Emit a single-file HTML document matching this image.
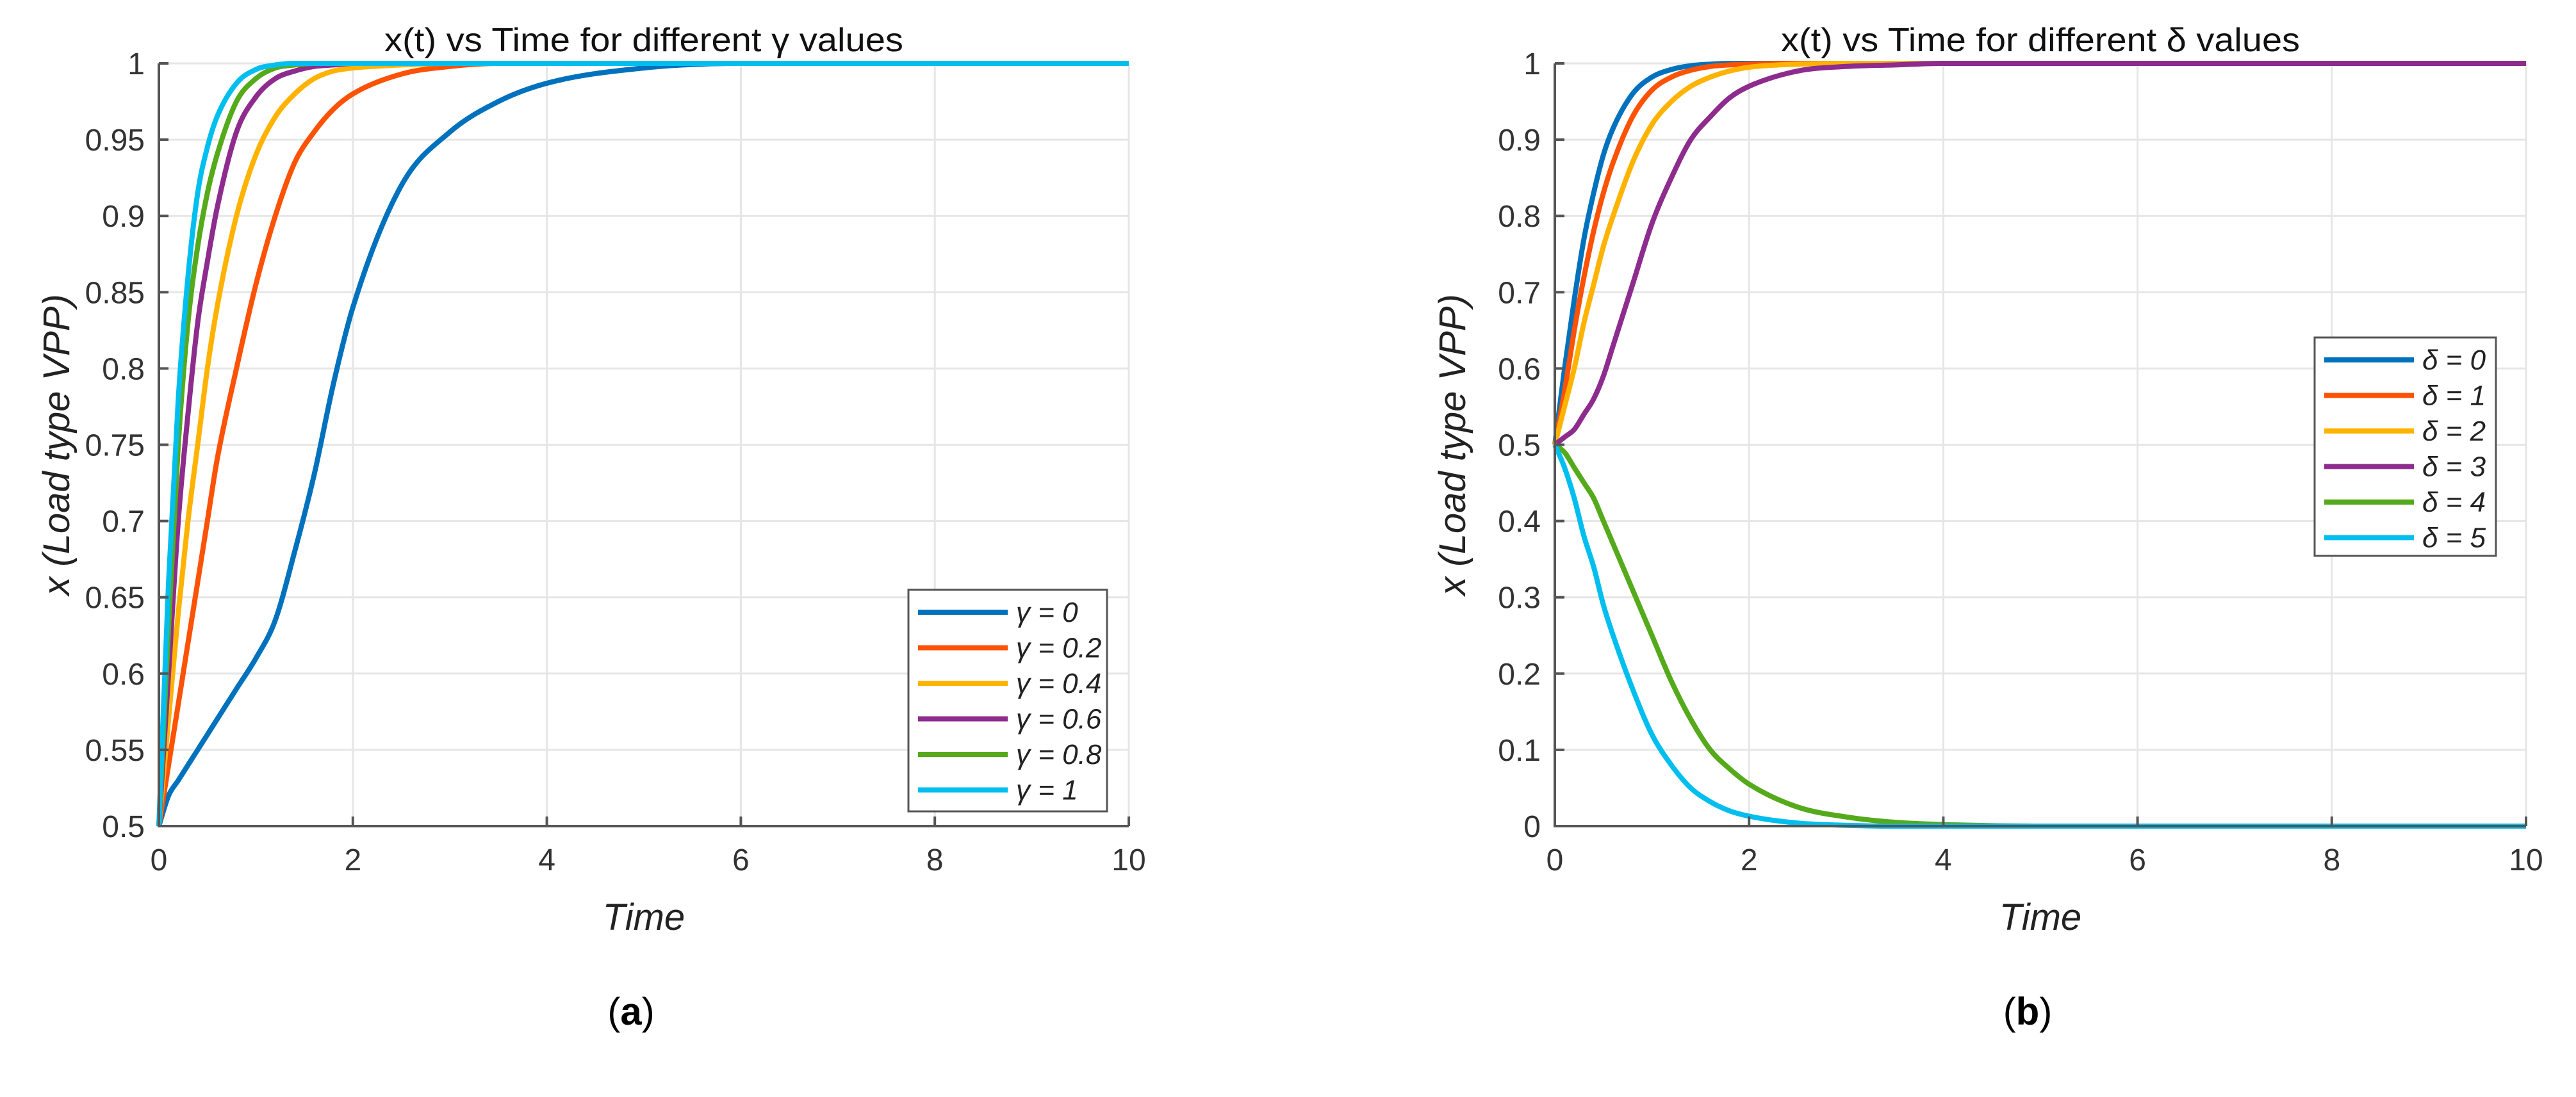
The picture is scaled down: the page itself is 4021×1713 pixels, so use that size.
<!DOCTYPE html>
<html><head><meta charset="utf-8">
<style>
html,body{margin:0;padding:0;background:#fff;}
svg{display:block;}
text{font-family:"Liberation Sans",sans-serif;}
</style></head>
<body>
<svg id="fig" width="4021" height="1713" viewBox="0 0 4021 1713" xmlns="http://www.w3.org/2000/svg"></svg>
<script>
// ---- data ----
const times = [0,0.1,0.2,0.3,0.4,0.5,0.6,0.8,1,1.2,1.4,1.6,1.8,2,2.5,3,3.5,4,5,6,8,10];
const gammaLabels = ["0","0.2","0.4","0.6","0.8","1"];
const gamma0  = [0.5,0.52,0.53,0.54,0.55,0.56,0.57,0.59,0.61,0.635,0.68,0.73,0.79,0.84,0.92,0.955,0.975,0.987,0.997,1,1,1];
const gamma02 = [0.5,0.54,0.58,0.62,0.66,0.70,0.74,0.80,0.855,0.90,0.935,0.955,0.97,0.98,0.993,0.998,1,1,1,1,1,1];
const gamma04 = [0.5,0.57,0.64,0.70,0.75,0.80,0.84,0.90,0.94,0.965,0.98,0.99,0.995,0.997,0.999,1,1,1,1,1,1,1];
const gamma06 = [0.5,0.60,0.70,0.77,0.83,0.87,0.905,0.955,0.978,0.99,0.995,0.998,0.999,1,1,1,1,1,1,1,1,1];
const gamma08 = [0.5,0.63,0.75,0.83,0.88,0.915,0.94,0.975,0.99,0.997,0.999,1,1,1,1,1,1,1,1,1,1,1];
const gamma1  = [0.5,0.66,0.78,0.86,0.915,0.945,0.965,0.987,0.996,0.999,1,1,1,1,1,1,1,1,1,1,1,1];
const deltaLabels = ["0","1","2","3","4","5"];
const delta0 = [0.5,0.6,0.69,0.77,0.83,0.88,0.915,0.96,0.982,0.992,0.997,0.999,1,1,1,1,1,1,1,1,1,1];
const delta1 = [0.5,0.57,0.65,0.72,0.78,0.83,0.87,0.93,0.965,0.982,0.991,0.996,0.998,0.999,1,1,1,1,1,1,1,1];
const delta2 = [0.5,0.55,0.60,0.66,0.71,0.76,0.80,0.87,0.92,0.95,0.97,0.982,0.99,0.995,0.999,1,1,1,1,1,1,1];
const delta3 = [0.5,0.51,0.52,0.54,0.56,0.59,0.63,0.71,0.79,0.85,0.9,0.93,0.955,0.97,0.99,0.996,0.998,1,1,1,1,1];
const delta4 = [0.5,0.49,0.47,0.45,0.43,0.40,0.37,0.31,0.25,0.19,0.14,0.10,0.075,0.055,0.025,0.012,0.005,0.002,0,0,0,0];
const delta5 = [0.5,0.47,0.43,0.38,0.34,0.29,0.25,0.18,0.12,0.08,0.05,0.032,0.02,0.013,0.004,0.001,0,0,0,0,0,0];
const xTicks = [0,2,4,6,8,10];
const yTicksA = [0.5,0.55,0.6,0.65,0.7,0.75,0.8,0.85,0.9,0.95,1];
const yTicksB = [0,0.1,0.2,0.3,0.4,0.5,0.6,0.7,0.8,0.9,1];
const colors = ["#0072BD","#FC5205","#FFB300","#8E2C8E","#55AA1B","#00BFEF"];

const NS="http://www.w3.org/2000/svg";
const svg=document.getElementById('fig');
function mk(tag,attrs,parent){const e=document.createElementNS(NS,tag);for(const k in attrs)e.setAttribute(k,attrs[k]);(parent||svg).appendChild(e);return e;}

function smoothPath(pts){
  // monotone cubic (Fritsch-Carlson)
  const n=pts.length; const dx=[],dy=[],m=[],t=[];
  for(let i=0;i<n-1;i++){dx[i]=pts[i+1][0]-pts[i][0];dy[i]=pts[i+1][1]-pts[i][1];m[i]=dy[i]/dx[i];}
  t[0]=m[0];t[n-1]=m[n-2];
  for(let i=1;i<n-1;i++){ if(m[i-1]*m[i]<=0)t[i]=0; else t[i]=(m[i-1]+m[i])/2; }
  for(let i=0;i<n-1;i++){ if(m[i]===0){t[i]=0;t[i+1]=0;continue;} const a=t[i]/m[i],b=t[i+1]/m[i],s=a*a+b*b; if(s>9){const k=3/Math.sqrt(s);t[i]=k*a*m[i];t[i+1]=k*b*m[i];} }
  let d="M"+pts[0][0].toFixed(1)+","+pts[0][1].toFixed(1);
  for(let i=0;i<n-1;i++){const h=dx[i]/3;
    d+=" C"+(pts[i][0]+h).toFixed(1)+","+(pts[i][1]+t[i]*h).toFixed(1)+" "+(pts[i+1][0]-h).toFixed(1)+","+(pts[i+1][1]-t[i+1]*h).toFixed(1)+" "+pts[i+1][0].toFixed(1)+","+pts[i+1][1].toFixed(1);}
  return d;
}

function panel(cfg){
  const g=mk('g',{});
  
  
  const L=cfg.L,R=cfg.R,T=99,B=1290;
  const sx=v=>L+(v-0)/(10-0)*(R-L);
  const sy=v=>B-(v-cfg.ymin)/(cfg.ymax-cfg.ymin)*(B-T);
  // grid
  cfg.yTicks.forEach(v=>{const l=mk('line',{x1:L,x2:R,y1:sy(v),y2:sy(v),stroke:'#e6e6e6','stroke-width':3},g);
    });
  xTicks.forEach(v=>{const l=mk('line',{x1:sx(v),x2:sx(v),y1:T,y2:B,stroke:'#e6e6e6','stroke-width':3},g);
    });
  // series
  cfg.series.forEach((s,i)=>{
    const pts=times.map((t,j)=>[sx(t),sy(s[j])]);
    const p=mk('path',{d:smoothPath(pts),fill:'none',stroke:colors[i],'stroke-width':8,'stroke-linejoin':'round'},g);
    
    
  });
  // axes
  const ax=mk('path',{d:`M${L},${T} L${L},${B} L${R},${B}`,fill:'none',stroke:'#555','stroke-width':4},g);
  
  cfg.yTicks.forEach(v=>{
    mk('line',{x1:L,x2:L+15,y1:sy(v),y2:sy(v),stroke:'#555','stroke-width':4},g);
    const t=mk('text',{x:L-22,y:sy(v)+17,'text-anchor':'end','font-size':48,fill:'#333'},g);
    
    t.textContent=String(v);
  });
  xTicks.forEach(v=>{
    mk('line',{x1:sx(v),x2:sx(v),y1:B,y2:B-15,stroke:'#555','stroke-width':4},g);
    const t=mk('text',{x:sx(v),y:1359,'text-anchor':'middle','font-size':48,fill:'#333'},g);
    
    t.textContent=String(v);
  });
  // title
  const ti=mk('text',{x:(L+R)/2,y:80,'text-anchor':'middle','font-size':52,fill:'#111',textLength:810,lengthAdjust:'spacingAndGlyphs'},g);
  
  ti.textContent=cfg.title;
  // x label
  const xl=mk('text',{x:(L+R)/2,y:1452,'text-anchor':'middle','font-size':58,'font-style':'italic',fill:'#222'},g);
  
  xl.textContent='Time';
  // y label
  const yl=mk('text',{x:0,y:0,'text-anchor':'middle','font-size':58,'font-style':'italic',fill:'#222',transform:`translate(${L-140},${(T+B)/2}) rotate(-90)`},g);
  
  yl.textContent='x (Load type VPP)';
  // legend
  const lg=mk('g',{},g);
  
  mk('rect',{x:cfg.lx,y:cfg.ly,width:cfg.lw,height:cfg.lh,fill:'#fff',stroke:'#555','stroke-width':3},lg);
  cfg.labels.forEach((lab,i)=>{
    const e=mk('g',{},lg);
    
    const y=cfg.ly+35+i*55.5;
    mk('line',{x1:cfg.lx+15,x2:cfg.lx+155,y1:y,y2:y,stroke:colors[i],'stroke-width':8},e);
    const t=mk('text',{x:cfg.lx+168,y:y+15,'font-size':44,'font-style':'italic',fill:'#222'},e);
    t.textContent=cfg.sym+cfg.gap+'= '+lab;
  });
  // caption
  const cap=mk('text',{x:cfg.capx,y:1600,'text-anchor':'middle','font-size':60,'font-family':'Liberation Serif, serif',fill:'#000'},g);
  
  cap.innerHTML='(<tspan font-weight="bold">'+cfg.cap+'</tspan>)';
}

panel({name:'panel-a',L:248,R:1762,ymin:0.5,ymax:1,yTicks:yTicksA,series:[gamma0,gamma02,gamma04,gamma06,gamma08,gamma1],
  labels:gammaLabels,sym:'γ',gap:' ',title:'x(t) vs Time for different γ values',lx:1418,ly:921,lw:310,lh:346,capx:985,cap:'a'});
panel({name:'panel-b',L:2427,R:3943,ymin:0,ymax:1,yTicks:yTicksB,series:[delta0,delta1,delta2,delta3,delta4,delta5],
  labels:deltaLabels,sym:'δ',gap:'  ',title:'x(t) vs Time for different δ values',lx:3613,ly:527,lw:283,lh:341,capx:3165,cap:'b'});
</script>
</body></html>
